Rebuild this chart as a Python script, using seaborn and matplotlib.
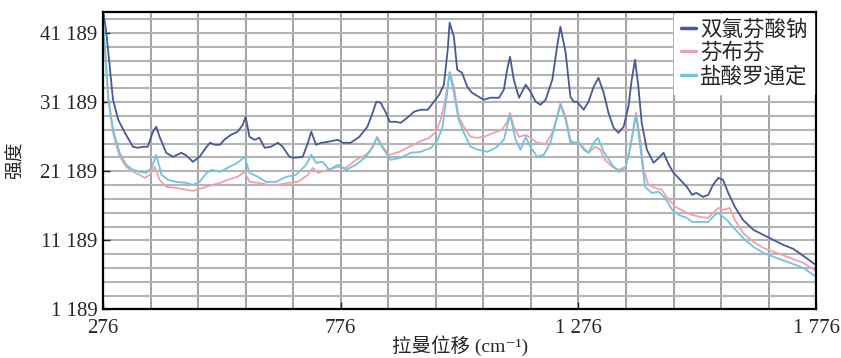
import numpy as np
import pandas as pd
import seaborn as sns
import matplotlib.pyplot as plt
from matplotlib.ticker import MultipleLocator, FixedLocator, FuncFormatter

## Raman spectra (shift in cm-1, intensity in counts)
dicl_x = [276, 283, 290, 297, 308, 322, 339, 349, 360, 370, 381, 388, 395, 409, 423, 441,
          452, 465, 479, 494, 501, 511, 522, 531, 545, 559, 570, 576, 584, 595, 605, 616,
          629, 644, 654, 668, 679, 696, 707, 714, 724, 735, 749, 770, 780, 797, 815, 832,
          843, 851, 860, 871, 879, 892, 902, 916, 930, 944, 959, 972, 983, 993, 1001, 1005,
          1014, 1021, 1031, 1042, 1052, 1066, 1077, 1091, 1109, 1119, 1126, 1132, 1140, 1151,
          1165, 1175, 1186, 1196, 1207, 1221, 1231, 1238, 1249, 1259, 1266, 1273, 1287, 1297,
          1308, 1318, 1329, 1339, 1350, 1360, 1371, 1381, 1388, 1395, 1402, 1409, 1420, 1434,
          1445, 1455, 1466, 1476, 1490, 1504, 1515, 1524, 1538, 1549, 1559, 1570, 1580, 1591,
          1605, 1622, 1644, 1665, 1686, 1707, 1728, 1749, 1776]
dicl_y = [44600, 41250, 36330, 31550, 28650, 26760, 24740, 24590, 24740, 24740, 26910, 27630,
          26180, 23870, 23290, 23870, 23430, 22560, 23290, 24740, 25320, 25030, 25030, 25750,
          26470, 26910, 27920, 29080, 26180, 25750, 26040, 24590, 24740, 25320, 24740, 23290,
          23140, 23290, 25320, 26910, 25030, 25320, 25460, 25750, 25320, 25320, 26180, 27630,
          29660, 31260, 31110, 29660, 28360, 28360, 28210, 28940, 29810, 30100, 30100, 31260,
          32270, 33720, 38790, 42700, 40670, 35890, 35460, 33430, 32560, 31980, 31550, 31840,
          31840, 33000, 35890, 37780, 34440, 31840, 33720, 32710, 31260, 30820, 31550, 34440,
          39230, 42120, 38360, 31980, 31260, 31260, 30100, 31260, 33430, 34730, 32560, 29660,
          27490, 26760, 27630, 30530, 34440, 37340, 33430, 28210, 24300, 22420, 23140, 23870,
          22130, 20970, 19950, 18940, 17780, 18070, 17490, 17780, 19230, 20240, 19950, 18070,
          16040, 14160, 12710, 11980, 11260, 10540, 9960, 8940, 7600]

fenb_x = [276, 280, 287, 297, 311, 325, 339, 353, 364, 374, 385, 395, 409, 430, 452, 465,
          486, 507, 522, 538, 559, 574, 584, 602, 623, 644, 665, 686, 707, 717, 728, 749,
          770, 787, 808, 829, 843, 852, 864, 878, 899, 920, 941, 962, 976, 986, 997, 1005,
          1014, 1024, 1035, 1049, 1063, 1077, 1098, 1115, 1126, 1132, 1140, 1151, 1165, 1175,
          1189, 1207, 1221, 1231, 1238, 1249, 1259, 1266, 1276, 1287, 1297, 1311, 1322, 1332,
          1347, 1361, 1375, 1385, 1392, 1397, 1406, 1413, 1423, 1437, 1451, 1466, 1480, 1500,
          1515, 1531, 1549, 1559, 1570, 1580, 1594, 1605, 1622, 1644, 1665, 1693, 1721, 1749,
          1776]
fenb_y = [42410, 38790, 31550, 26760, 23290, 21840, 21110, 20680, 20240, 20680, 21840, 19950,
          18940, 18790, 18510, 18360, 18790, 19230, 19520, 19950, 20390, 21110, 19660, 19520,
          19230, 19230, 19520, 19660, 20680, 21690, 20970, 21400, 21840, 21690, 22850, 23580,
          24590, 26180, 24740, 23580, 24010, 24740, 25460, 26040, 26910, 28650, 31980, 35600,
          33430, 29080, 27630, 26180, 26040, 26180, 26760, 27200, 28360, 29660, 27630, 26180,
          26470, 26040, 25320, 25170, 26760, 29080, 31110, 29080, 25750, 25320, 25460, 24590,
          23870, 24740, 24300, 22850, 21840, 21400, 21840, 24740, 27630, 29660, 25750, 21400,
          19230, 18790, 18510, 17060, 16040, 15320, 14880, 14590, 14450, 15170, 15900, 15610,
          15900, 14160, 12270, 10970, 10100, 9380, 8650, 7930, 6770]

rotu_x = [276, 280, 287, 297, 311, 325, 339, 353, 367, 378, 388, 399, 413, 430, 452, 465,
          479, 494, 504, 522, 538, 559, 574, 584, 602, 619, 640, 661, 682, 703, 714, 724,
          738, 752, 770, 787, 808, 829, 843, 852, 864, 881, 902, 923, 944, 966, 980, 990,
          998, 1005, 1014, 1024, 1035, 1049, 1066, 1084, 1102, 1119, 1132, 1144, 1154, 1165,
          1175, 1189, 1203, 1217, 1228, 1238, 1249, 1259, 1276, 1287, 1297, 1308, 1317, 1329,
          1347, 1361, 1375, 1385, 1397, 1406, 1416, 1430, 1445, 1458, 1473, 1487, 1504, 1515,
          1531, 1549, 1563, 1570, 1588, 1601, 1622, 1644, 1665, 1693, 1721, 1749, 1776]
rotu_y = [42850, 39230, 31980, 27200, 23870, 22130, 21400, 21110, 20970, 21690, 23580, 20680,
          19950, 19660, 19520, 19230, 19660, 20970, 21400, 21110, 21690, 22420, 23290, 20970,
          20390, 19660, 19660, 20390, 20680, 22130, 23580, 22420, 22560, 21400, 22130, 21400,
          22130, 23290, 24740, 26040, 24590, 22850, 23140, 23870, 24010, 24590, 25750, 27630,
          31550, 35460, 32560, 28650, 26760, 24740, 24300, 24010, 24590, 25750, 29370, 25750,
          24300, 26180, 24740, 23290, 23580, 25320, 28210, 30820, 28650, 25320, 25320, 24300,
          23870, 25320, 26040, 24010, 22130, 21110, 21690, 24590, 29370, 24740, 18940, 18070,
          18220, 17350, 15610, 14880, 14450, 13870, 13870, 13870, 14880, 15170, 14160, 13140,
          11550, 10250, 9380, 8650, 7930, 7200, 5900]

names = ['双氯芬酸钠', '芬布芬', '盐酸罗通定']
colors = ['#4a5897', '#eea2ab', '#72c3dc']

x_ticks = [276, 776, 1276, 1776]
y_ticks = [1189, 11189, 21189, 31189, 41189]


def main():
    sns.set_style('ticks')
    plt.rcParams['font.family'] = ['Liberation Serif', 'Noto Sans CJK SC', 'DejaVu Sans']

    df = pd.concat([
        pd.DataFrame({'shift': dicl_x, 'intensity': dicl_y, 'drug': names[0]}),
        pd.DataFrame({'shift': fenb_x, 'intensity': fenb_y, 'drug': names[1]}),
        pd.DataFrame({'shift': rotu_x, 'intensity': rotu_y, 'drug': names[2]}),
    ])

    fig = plt.figure(figsize=(8.41, 3.58), dpi=100)
    ax = fig.add_axes([0.1225, 0.1355, 0.848, 0.832])

    sns.lineplot(data=df, x='shift', y='intensity', hue='drug', hue_order=names,
                 palette=colors, estimator=None, sort=False, linewidth=1.3, ax=ax)

    ax.set_xlim(276, 1776)
    ax.set_ylim(1189, 44300)
    ax.xaxis.set_major_locator(FixedLocator(x_ticks))
    ax.xaxis.set_minor_locator(MultipleLocator(100, offset=76))
    ax.yaxis.set_major_locator(FixedLocator(y_ticks))
    ax.yaxis.set_minor_locator(MultipleLocator(2000, offset=1189))
    fmt = FuncFormatter(lambda v, p: f'{int(round(v)):,}'.replace(',', ' '))
    ax.xaxis.set_major_formatter(fmt)
    ax.yaxis.set_major_formatter(fmt)

    ax.grid(True, which='both', axis='x', color='#9c9c9c', linewidth=1.3)
    ax.grid(True, which='both', axis='y', color='#b4b4b4', linewidth=1.5)
    ax.set_axisbelow(True)
    ax.tick_params(which='major', direction='in', length=5, width=1, labelsize=15)
    ax.tick_params(axis='x', pad=7)
    ax.tick_params(axis='y', pad=4)
    ax.tick_params(which='minor', length=0)
    for s in ax.spines.values():
        s.set_color('black')
        s.set_linewidth(1.6)

    ax.set_xlabel('拉曼位移 (cm⁻¹)', fontsize=14, labelpad=-2)
    ax.set_ylabel('强度', fontsize=13.5)
    ax.yaxis.set_label_coords(-0.11, 0.5)

    leg = ax.legend(loc='upper right', frameon=True, fontsize=15.5, handlelength=0.7,
                    handletextpad=0.2, borderaxespad=0.1, labelspacing=0.12,
                    borderpad=0.3, fancybox=False)
    leg.get_frame().set_facecolor('white')
    leg.get_frame().set_edgecolor('white')
    leg.get_frame().set_alpha(1)
    for line in leg.get_lines():
        line.set_linewidth(2.5)

    plt.savefig('out.png', dpi=100)


main()
